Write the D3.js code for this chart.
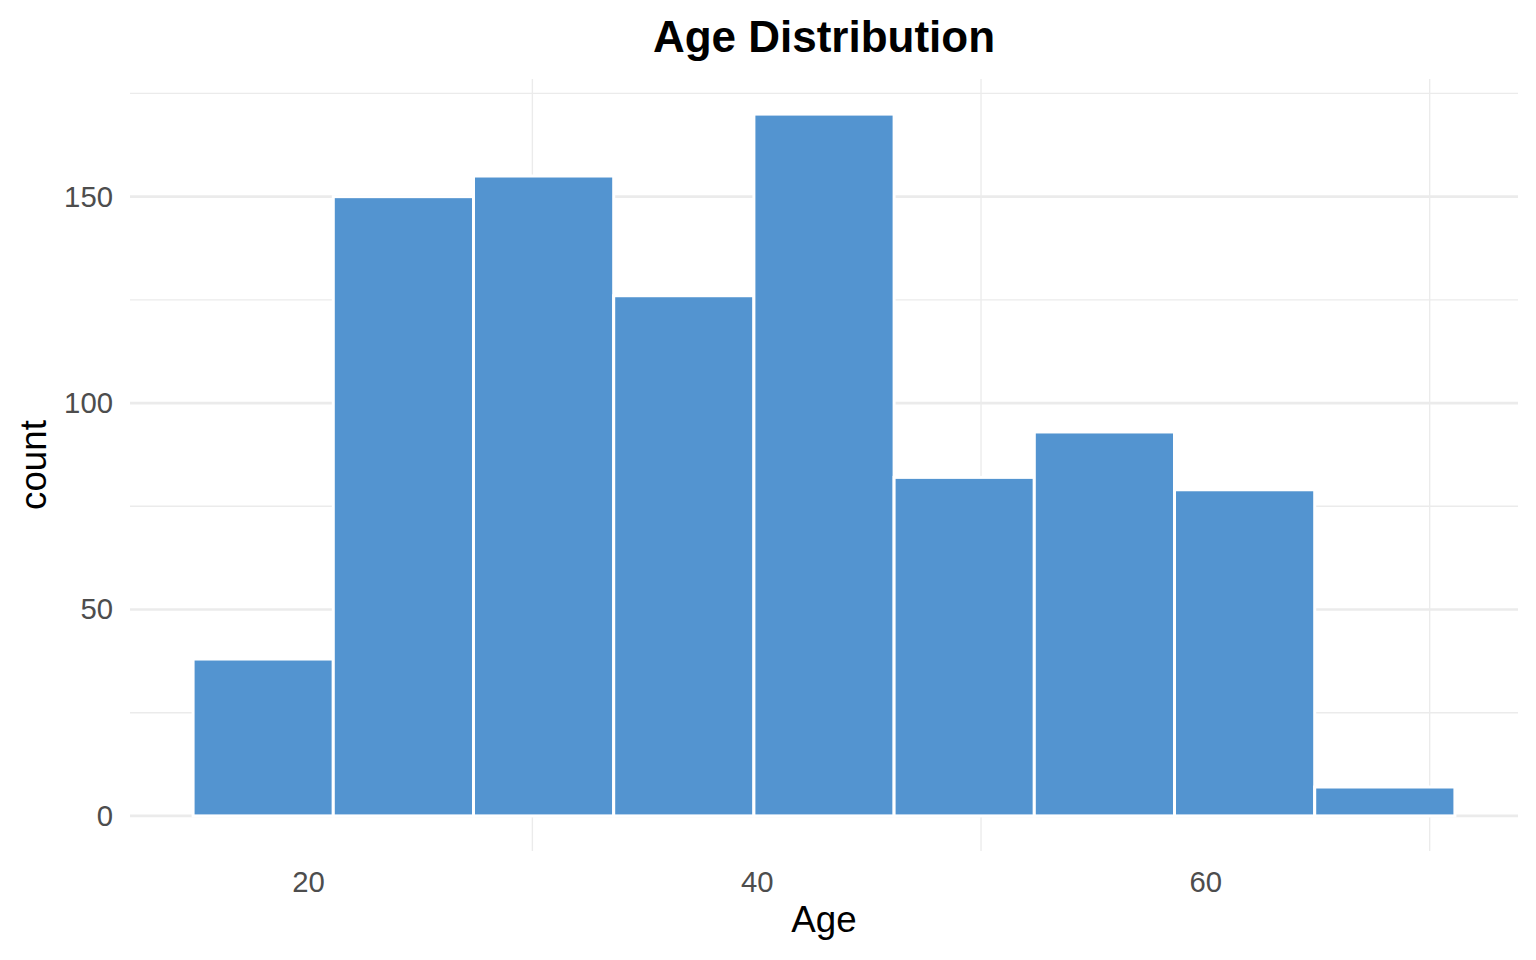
<html>
    <head>
        <script src="https://d3js.org/d3.v7.min.js"></script>
        <style>
            body { margin: 0; background: #fff; }
            text { font-family: "Liberation Sans", Arial, sans-serif; }
        </style>
    </head>
    <body>
        <svg id="svg" width="1536" height="960"></svg>
        <script>
            // histogram of ages, 9 bins
            var binEdges = [14.875, 21.125, 27.375, 33.625, 39.875, 46.125, 52.375, 58.625, 64.875, 71.125];
            var counts = [38, 150, 155, 126, 170, 82, 93, 79, 7];
            var xTicks = [20, 40, 60];
            var xMinor = [30, 50, 70];
            var yTicks = [0, 50, 100, 150];
            var yMinor = [25, 75, 125, 175];

            var svg = d3.select("svg");
            // panel edges (note: "top" is a reserved window global, so use other names)
            var panelL = 130, panelR = 1518, panelT = 79, panelB = 851;

            // ggplot style 5% expansion on both scales
            var xSpan = binEdges[binEdges.length - 1] - binEdges[0];
            var x = d3.scaleLinear()
                .domain([binEdges[0] - xSpan * 0.05, binEdges[binEdges.length - 1] + xSpan * 0.05])
                .range([panelL, panelR]);
            var yMax = d3.max(counts);
            var y = d3.scaleLinear()
                .domain([-yMax * 0.05, yMax * 1.05])
                .range([panelB, panelT]);

            var bins = counts.map(function(c, i) {
                return {x0: binEdges[i], x1: binEdges[i + 1], count: c};
            });

            var grid = svg.append("g");
            grid.selectAll(".ymin").data(yMinor).enter().append("line")
                .attr("x1", panelL).attr("x2", panelR)
                .attr("y1", function(d) { return y(d); }).attr("y2", function(d) { return y(d); })
                .attr("stroke", "#ebebeb").attr("stroke-width", 1.35);
            grid.selectAll(".xmin").data(xMinor).enter().append("line")
                .attr("y1", panelT).attr("y2", panelB)
                .attr("x1", function(d) { return x(d); }).attr("x2", function(d) { return x(d); })
                .attr("stroke", "#ebebeb").attr("stroke-width", 1.35);
            grid.selectAll(".ymaj").data(yTicks).enter().append("line")
                .attr("x1", panelL).attr("x2", panelR)
                .attr("y1", function(d) { return y(d); }).attr("y2", function(d) { return y(d); })
                .attr("stroke", "#ebebeb").attr("stroke-width", 2.7);

            svg.append("g").selectAll("rect").data(bins).enter().append("rect")
                .attr("x", function(d) { return x(d.x0); })
                .attr("y", function(d) { return y(d.count); })
                .attr("width", function(d) { return x(d.x1) - x(d.x0); })
                .attr("height", function(d) { return y(0) - y(d.count); })
                .attr("fill", "#5394d0")
                .attr("stroke", "#ffffff")
                .attr("stroke-width", 3);

            var xAxis = svg.append("g")
                .attr("transform", "translate(0," + panelB + ")")
                .call(d3.axisBottom(x).tickValues(xTicks).tickSize(0).tickPadding(20));
            var yAxis = svg.append("g")
                .attr("transform", "translate(" + panelL + ",0)")
                .call(d3.axisLeft(y).tickValues(yTicks).tickSize(0).tickPadding(17));
            [xAxis, yAxis].forEach(function(a) {
                a.select(".domain").remove();
                a.selectAll("text")
                    .attr("fill", "#4d4d4d")
                    .style("font-size", "29.3px")
                    .style("font-family", "'Liberation Sans', Arial, sans-serif");
            });

            svg.append("text")
                .attr("x", (panelL + panelR) / 2).attr("y", 52)
                .attr("text-anchor", "middle")
                .style("font-size", "44px").style("font-weight", "bold")
                .text("Age Distribution");

            svg.append("text")
                .attr("x", (panelL + panelR) / 2).attr("y", 932)
                .attr("text-anchor", "middle")
                .style("font-size", "36.7px")
                .text("Age");

            svg.append("text")
                .attr("transform", "translate(46," + (panelT + panelB) / 2 + ") rotate(-90)")
                .attr("text-anchor", "middle")
                .style("font-size", "36.7px")
                .text("count");
        </script>
    </body>
</html>
